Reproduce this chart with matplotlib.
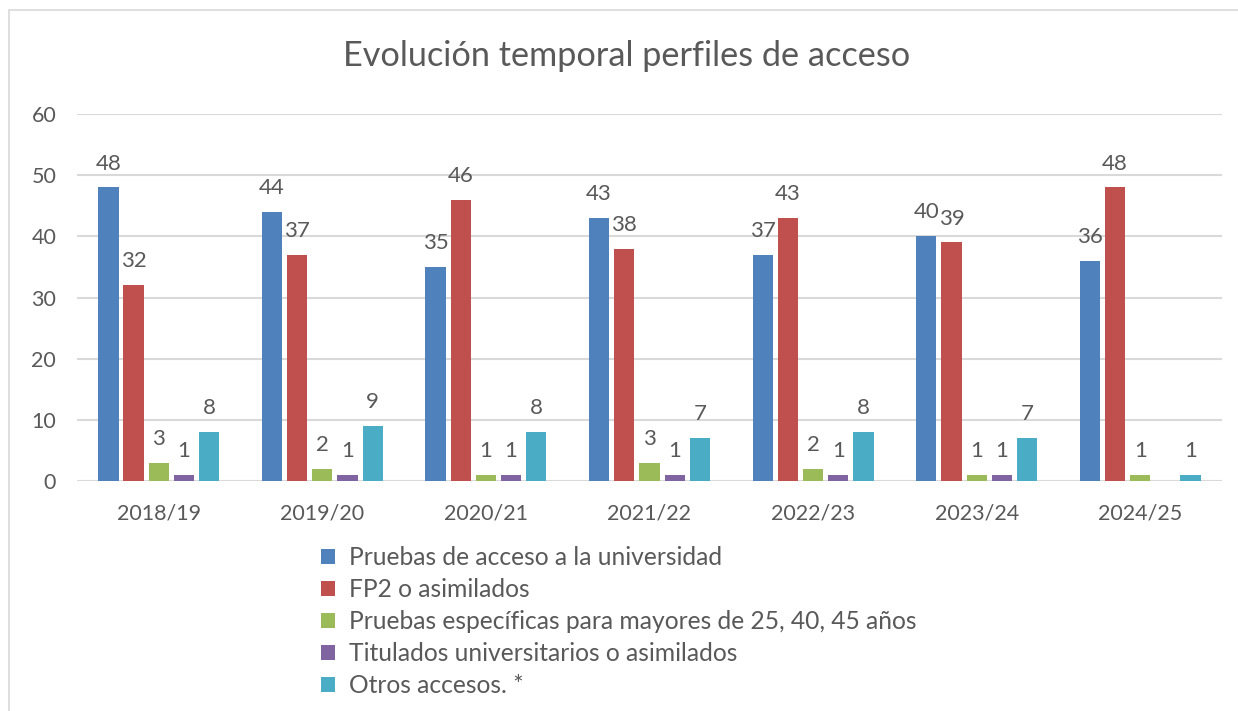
import matplotlib
matplotlib.use("Agg")
import matplotlib.pyplot as plt
import numpy as np
from matplotlib.patches import Rectangle

plt.rcParams['font.family'] = ['Lato', 'DejaVu Sans']

categories = ["2018/19", "2019/20", "2020/21", "2021/22", "2022/23", "2023/24", "2024/25"]
series_names = [
    "Pruebas de acceso a la universidad",
    "FP2 o asimilados",
    "Pruebas específicas para mayores de 25, 40, 45 años",
    "Titulados universitarios o asimilados",
    "Otros accesos. *",
]
pruebas_acceso = [48, 44, 35, 43, 37, 40, 36]
fp2 = [32, 37, 46, 38, 43, 39, 48]
mayores = [3, 2, 1, 3, 2, 1, 1]
titulados = [1, 1, 1, 1, 1, 1, 0]
otros = [8, 9, 8, 7, 8, 7, 1]
series_values = [pruebas_acceso, fp2, mayores, titulados, otros]
colors = ["#4F81BD", "#C0504D", "#9BBB59", "#8064A2", "#4BACC6"]
yticks = [0, 10, 20, 30, 40, 50, 60]

text_color = "#595959"
grid_color = "#D9D9D9"

fig = plt.figure(figsize=(12.38, 7.11), dpi=100)
ax = fig.add_axes([77/1238, 1-481/711, (1222-77)/1238, (481-114)/711])

# chart border
fig.patches.append(Rectangle((9/1238, -0.1), 1.2, 1-10/711+0.1, transform=fig.transFigure,
                             fill=False, edgecolor=grid_color, linewidth=1.2, zorder=0))

x = np.arange(len(categories))
pitch = 0.154
width = 0.124
n = len(series_values)
for i, (vals, col, name) in enumerate(zip(series_values, colors, series_names)):
    pos = x + (i - (n-1)/2) * pitch
    ax.bar(pos, vals, width=width, color=col, label=name, zorder=3)
    for p, v in zip(pos, vals):
        if v > 0:
            ax.annotate(str(v), (p, v), xytext=(0, 10), textcoords="offset points",
                        ha="center", va="bottom", fontsize=16, color=text_color)

ax.set_xlim(-0.5, len(categories)-0.5)
ax.set_ylim(0, 60)
ax.set_yticks(yticks)
ax.set_xticks(x)
ax.set_xticklabels(categories)
ax.tick_params(axis='both', length=0, labelsize=15.5, labelcolor=text_color)
ax.tick_params(axis='y', pad=15)
ax.tick_params(axis='x', pad=16)
for s in ax.spines.values():
    s.set_visible(False)
ax.yaxis.grid(True, color=grid_color, linewidth=1.5, zorder=0)
ax.set_axisbelow(True)

fig.text(0.506, 1-56/711, "Evolución temporal perfiles de acceso", ha="center", va="center",
         fontsize=24.7, color=text_color)

handles, labels = ax.get_legend_handles_labels()
leg = fig.legend(handles, labels, loc="upper left", bbox_to_anchor=(321/1238, 1-546/711),
                 frameon=False, fontsize=17.7, labelcolor=text_color, ncol=1,
                 handlelength=0.55, handleheight=0.55, handletextpad=0.6,
                 labelspacing=0.365, borderaxespad=0, borderpad=0)

fig.savefig("out.png", dpi=100)
